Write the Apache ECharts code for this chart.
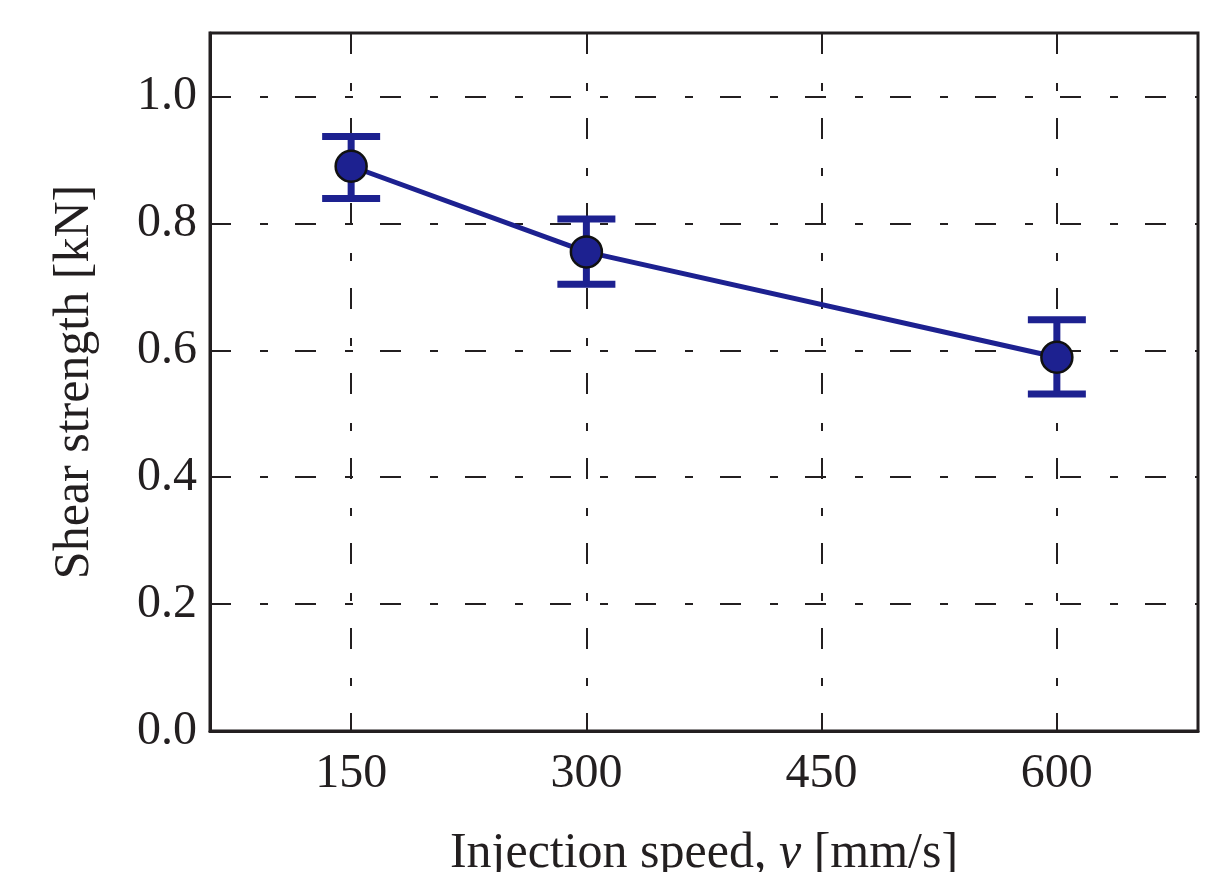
<!DOCTYPE html>
<html>
<head>
<meta charset="utf-8">
<script src="https://cdn.jsdelivr.net/npm/echarts@6/dist/echarts.min.js"></script>
<style>
  html, body { margin: 0; padding: 0; background: #fff; }
  #chart { width: 1230px; height: 872px; }
</style>
</head>
<body>
<div id="chart"></div>
<script>
// data
const speeds = [150, 300, 600];
const strength = [0.890, 0.755, 0.589];
const errLow = [0.839, 0.704, 0.531];
const errHigh = [0.937, 0.807, 0.648];
const xTicks = [150, 300, 450, 600];

const ink = '#231f20';
const navy = '#1d2190';
const font = 'Liberation Serif';

const chart = echarts.init(document.getElementById('chart'));

chart.setOption({
    animation: false,
    grid: {
        left: 210, top: 33, right: 32, bottom: 141,
        outerBoundsMode: 'none',
        containLabel: false,
        show: true, borderColor: ink, borderWidth: 3
    },
    xAxis: {
        type: 'value',
        min: 60, max: 690,
        name: 'Injection speed, {i|v} [mm/s]',
        nameLocation: 'middle',
        nameGap: 98,
        nameTextStyle: {
            fontFamily: font, fontSize: 50, color: ink,
            rich: { i: { fontFamily: font, fontSize: 50, fontStyle: 'italic', color: ink } }
        },
        axisLine: { show: true, lineStyle: { color: ink, width: 3 } },
        axisTick: { show: false, customValues: xTicks },
        axisLabel: { customValues: xTicks, margin: 19, fontFamily: font, fontSize: 48, color: ink },
        splitLine: { show: true, lineStyle: { color: ink, width: 2, type: [21, 29, 8, 27] } }
    },
    yAxis: {
        type: 'value',
        min: 0, max: 1.1, interval: 0.2,
        name: 'Shear strength [kN]',
        nameLocation: 'middle',
        nameGap: 110,
        nameTextStyle: { fontFamily: font, fontSize: 50, color: ink },
        axisLine: { show: true, lineStyle: { color: ink, width: 3 } },
        axisTick: { show: false },
        axisLabel: {
            margin: 13, fontFamily: font, fontSize: 48, color: ink,
            formatter: v => (v > 1.05 ? '' : v.toFixed(1))
        },
        splitLine: { show: true, lineStyle: { color: ink, width: 2, type: [21, 29, 8, 27] } }
    },
    series: [
        {
            type: 'custom',
            z: 2,
            data: speeds.map((s, i) => [s, errLow[i], errHigh[i]]),
            renderItem: function (params, api) {
                const lo = api.coord([api.value(0), api.value(1)]);
                const hi = api.coord([api.value(0), api.value(2)]);
                const hw = 29;
                const style = { stroke: navy, lineWidth: 7, fill: null };
                return {
                    type: 'group',
                    children: [
                        { type: 'line', shape: { x1: lo[0], y1: lo[1], x2: hi[0], y2: hi[1] }, style: style },
                        { type: 'line', shape: { x1: lo[0] - hw, y1: lo[1], x2: lo[0] + hw, y2: lo[1] }, style: style },
                        { type: 'line', shape: { x1: hi[0] - hw, y1: hi[1], x2: hi[0] + hw, y2: hi[1] }, style: style }
                    ]
                };
            }
        },
        {
            type: 'line',
            z: 3,
            data: speeds.map((s, i) => [s, strength[i]]),
            symbol: 'circle',
            symbolSize: 31,
            lineStyle: { color: navy, width: 5 },
            itemStyle: { color: navy, borderColor: '#111', borderWidth: 2.5 }
        }
    ]
});
</script>
</body>
</html>
